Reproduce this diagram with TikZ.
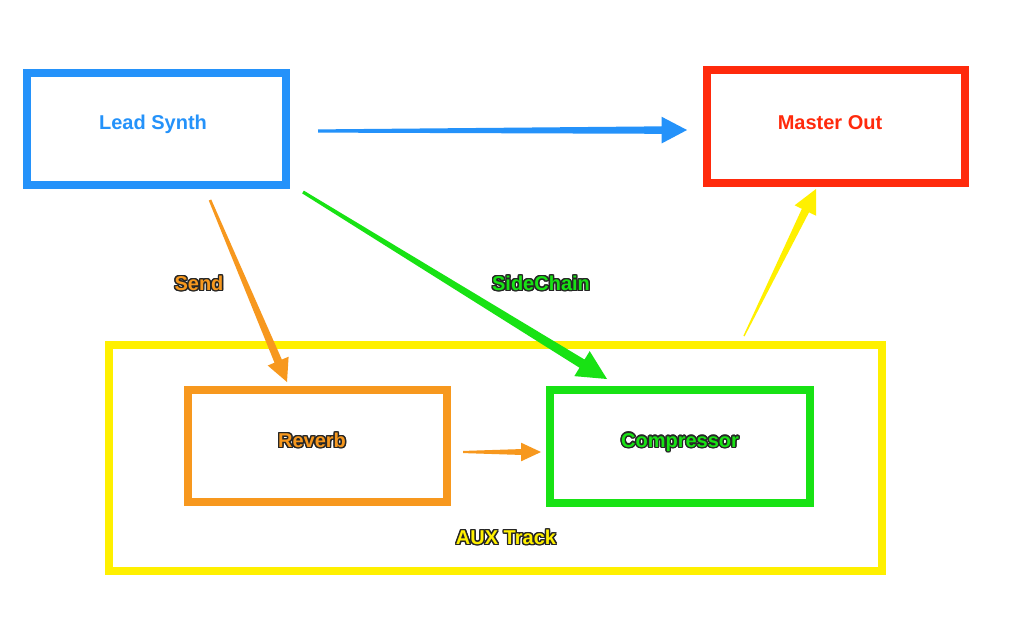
\documentclass[tikz,border=0pt]{standalone}
\usepackage{fontspec}
\setmainfont{Liberation Sans}
\usepackage{contour}
\contourlength{1pt}
\usetikzlibrary{calc}
\definecolor{cblue}{RGB}{36,146,250}
\definecolor{cred}{RGB}{255,42,12}
\definecolor{cyel}{RGB}{255,240,0}
\definecolor{corange}{RGB}{247,152,30}
\definecolor{cgreen}{RGB}{24,226,20}
\tikzset{
  frame/.style={draw=#1, line width=5.5pt},
  lbl/.style={font=\bfseries\fontsize{15}{17}\selectfont, inner sep=0pt},
}
\newcommand{\dk}[2]{\contour{black!85}{\textcolor{#1}{#2}}}
\newcommand{\wt}[2]{\contour{white}{\textcolor{#1}{#2}}}
% tapered arrow: #1 from, #2 to, #3 colour, #4 half width at start, #5 half width at head base, #6 head length, #7 head half width
\newcommand{\taper}[7]{%
  \coordinate (hb) at ($(#2)!#6!(#1)$);
  \fill[#3] ($(#1)!#4!90:(#2)$) -- ($(hb)!#5!-90:(#1)$) -- ($(hb)!#7!-90:(#1)$) -- (#2)
     -- ($(hb)!#7!90:(#1)$) -- ($(hb)!#5!90:(#1)$) -- ($(#1)!#4!-90:(#2)$) -- cycle;}
\begin{document}
\begin{tikzpicture}[x=0.75pt,y=-0.75pt]
\useasboundingbox[fill=white] (0,0) rectangle (1017,637);
% boxes
\draw[frame=cblue] (27,73) rectangle (286,185);
\draw[frame=cred] (707,70) rectangle (965,183);
\draw[frame=cyel] (109,345) rectangle (882,571);
\draw[frame=corange] (188,390) rectangle (447,502);
\draw[frame=cgreen] (550,390) rectangle (810,503);
% labels
\node[lbl] (lead) at (153,125) {\wt{cblue}{Lead Synth}};
\node[lbl] (master) at (830,123) {\wt{cred}{Master Out}};
\node[lbl] (send) at (199,284) {\dk{corange}{Send}};
\node[lbl] (side) at (541,284) {\dk{cgreen}{SideChain}};
\node[lbl] (reverb) at (312,441) {\dk{corange}{Reverb}};
\node[lbl] (comp) at (680,443) {\dk{cgreen}{Compressor}};
\node[lbl] (aux) at (506,538) {\dk{cyel}{AUX Track}};
% arrow end points
\coordinate (b1) at (318,131); \coordinate (b2) at (687,130);
\coordinate (g1) at (303,192); \coordinate (g2) at (607,379);
\coordinate (o1) at (210,200); \coordinate (o2) at (287,382);
\coordinate (r1) at (463,452); \coordinate (r2) at (541,452);
\coordinate (y1) at (744,336); \coordinate (y2) at (816,189);
\taper{b1}{b2}{cblue}{1.2pt}{2.8pt}{19pt}{10pt}
\taper{g1}{g2}{cgreen}{1.2pt}{3.6pt}{22pt}{11pt}
\taper{o1}{o2}{corange}{1pt}{3pt}{17pt}{8.5pt}
\taper{r1}{r2}{corange}{0.8pt}{2.2pt}{15pt}{7pt}
\taper{y1}{y2}{cyel}{0.5pt}{3pt}{18pt}{9pt}
\end{tikzpicture}
\end{document}
